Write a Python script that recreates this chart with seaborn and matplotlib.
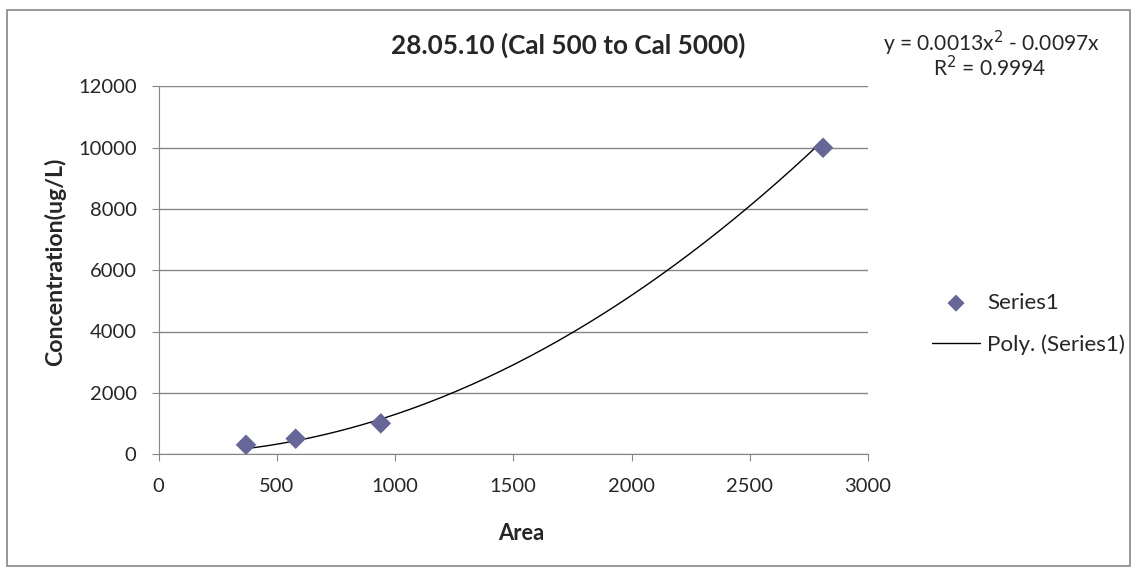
import numpy as np
import pandas as pd
import matplotlib.pyplot as plt
import seaborn as sns
from matplotlib.patches import Rectangle

area = [370, 580, 940, 2810]
concentration = [300, 500, 1000, 10000]
trend_coef = [0.0013, -0.0097, 0.0]   # from the chart's trendline label
x_ticks = [0, 500, 1000, 1500, 2000, 2500, 3000]
y_ticks = [0, 2000, 4000, 6000, 8000, 10000, 12000]

sns.set_style("white")
plt.rcParams['font.family'] = ['Lato', 'DejaVu Sans']

W, H = 1137, 576
fig = plt.figure(figsize=(W / 100, H / 100), dpi=100)
renderer = fig.canvas.get_renderer()


def fit_size(s, target_w, weight="normal", base=12.0):
    # scale the font size so the text is as wide as in the reference
    t = fig.text(0, 0, s, fontsize=base, fontweight=weight)
    w = t.get_window_extent(renderer).width
    t.remove()
    return base * target_w / w


def text_h(s, size, weight="normal"):
    t = fig.text(0, 0, s, fontsize=size, fontweight=weight)
    h = t.get_window_extent(renderer).height
    t.remove()
    return h


tick_fs = fit_size("12000", 58)
title_fs = fit_size("28.05.10 (Cal 500 to Cal 5000)", 353, "bold")
eq_fs = fit_size("y = 0.0013x$^2$ - 0.0097x", 217)
leg_fs = fit_size("Poly. (Series1)", 138)
xl_fs = fit_size("Area", 46, "bold")
yl_fs = fit_size("Concentration(ug/L)", 208, "bold")

df = pd.DataFrame({"Area": area, "Concentration": concentration})
xs = np.linspace(min(area), max(area), 200)
trend = pd.DataFrame({"Area": xs, "Concentration": np.polyval(trend_coef, xs)})

L, R, T, B = 158.5, 868, 86.5, 454
ax = fig.add_axes([L / W, 1 - B / H, (R - L) / W, (B - T) / H])

sns.lineplot(data=trend, x="Area", y="Concentration", ax=ax, color="black",
             linewidth=1, label="Poly. (Series1)")
sns.scatterplot(data=df, x="Area", y="Concentration", ax=ax, marker="D", s=110,
                color="#666699", edgecolor="none", label="Series1", zorder=3)

ax.set_xlim(0, 3000)
ax.set_ylim(0, 12000)
ax.set_xticks(x_ticks)
ax.set_yticks(y_ticks)
ax.tick_params(labelsize=tick_fs, color="#868686", length=5, direction="out",
               bottom=True, left=True)
ax.tick_params(axis="y", pad=10.8)
ax.tick_params(axis="x", pad=12.5)
ax.yaxis.grid(True, color="#868686", linewidth=1)
ax.set_axisbelow(True)
for s in ["top", "right"]:
    ax.spines[s].set_visible(False)
for s in ["left", "bottom"]:
    ax.spines[s].set_color("#868686")

ax.set_xlabel("Area", fontsize=xl_fs, fontweight="bold", va="center")
ax.xaxis.set_label_coords((521 - L) / (R - L), -(533 - B) / (B - T))
ax.set_ylabel("Concentration(ug/L)", fontsize=yl_fs, fontweight="bold", va="center")
ax.yaxis.set_label_coords((55 - L) / (R - L), (B - 262) / (B - T))

fig.suptitle("28.05.10 (Cal 500 to Cal 5000)", x=0.5, y=1 - 45 / H, va="center",
             fontsize=title_fs, fontweight="bold")

leg_px = leg_fs * 100 / 72
row_h = text_h("Poly. (Series1)", leg_fs)
h, l = ax.get_legend_handles_labels()
ax.legend(h[::-1], l[::-1], loc="center left", bbox_to_anchor=(932 / W, 1 - 324 / H),
          bbox_transform=fig.transFigure, frameon=False, fontsize=leg_fs,
          borderpad=0, borderaxespad=0, markerscale=0.83,
          handlelength=48 / leg_px, handletextpad=7 / leg_px,
          labelspacing=(42 - row_h) / leg_px)

fig.text(991 / W, 1 - 43 / H, "y = 0.0013x$^2$ - 0.0097x", ha="center", va="center", fontsize=eq_fs)
fig.text(990 / W, 1 - 68 / H, "R$^2$ = 0.9994", ha="center", va="center", fontsize=eq_fs)

fig.patches.append(Rectangle((7 / W, 10 / H), 1123 / W, 556 / H, transform=fig.transFigure,
                             fill=False, edgecolor="#868686", linewidth=1.2))

fig.savefig("out.png", dpi=100)
